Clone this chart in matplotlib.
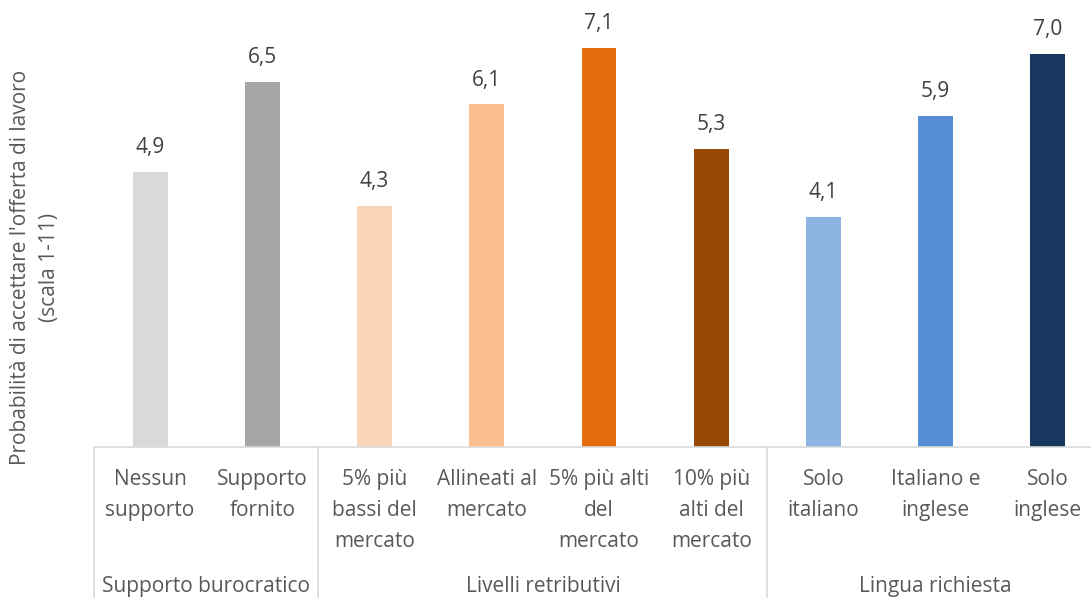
import matplotlib.pyplot as plt
import numpy as np

plt.rcParams['font.family'] = ['Open Sans', 'DejaVu Sans']

categories = ['Nessun\nsupporto', 'Supporto\nfornito',
              '5% più\nbassi del\nmercato', 'Allineati al\nmercato',
              '5% più alti\ndel\nmercato', '10% più\nalti del\nmercato',
              'Solo\nitaliano', 'Italiano e\ninglese', 'Solo\ninglese']
values = [4.9, 6.5, 4.3, 6.1, 7.1, 5.3, 4.1, 5.9, 7.0]
groups = ['Supporto burocratico', 'Livelli retributivi', 'Lingua richiesta']
group_sizes = [2, 4, 3]
colors = ['#d9d9d9', '#a6a6a6', '#fbd5b5', '#f9bf8f', '#e46c0a',
          '#984807', '#8eb4e3', '#558ed5', '#17375e']

text_col = '#595959'
line_col = '#d9d9d9'

fig = plt.figure(figsize=(10.91, 5.98), dpi=100)
ax = fig.add_axes([94 / 1091, 151 / 598, 1010 / 1091, 447 / 598])

x = np.arange(len(values))
bars = ax.bar(x, values, width=0.31, color=colors)
labels = [f'{v:.1f}'.replace('.', ',') for v in values]
ax.bar_label(bars, labels=labels, padding=10, fontsize=15, color='#404040')

ax.set_xlim(-0.5, len(values) - 0.5)
ax.set_ylim(0, 7.96)
ax.set_yticks([])
ax.set_xticks([])
for s in ['top', 'right', 'left']:
    ax.spines[s].set_visible(False)
ax.spines['bottom'].set_color(line_col)
ax.spines['bottom'].set_linewidth(1.2)

# category labels under each bar
for xi, lab in zip(x, categories):
    ax.text(xi, -0.40, lab, ha='center', va='top', fontsize=15,
            color=text_col, linespacing=1.6)

# group labels and separator lines
start = 0
bounds = [-0.5]
for g, n in zip(groups, group_sizes):
    mid = start + (n - 1) / 2
    ax.text(mid, -2.59, g, ha='center', va='baseline', fontsize=15,
            color=text_col)
    start += n
    bounds.append(start - 0.5)
for b in bounds[:-1]:
    ax.plot([b, b], [0, -2.8], color=line_col, lw=1.2, clip_on=False)

fig.text(35 / 1091, 1 - 267 / 598,
         "Probabilità di accettare l'offerta di lavoro\n(scala 1-11)",
         rotation=90, ha='center', va='center', fontsize=15,
         color=text_col, linespacing=1.55)

fig.savefig('out.png', dpi=100)
